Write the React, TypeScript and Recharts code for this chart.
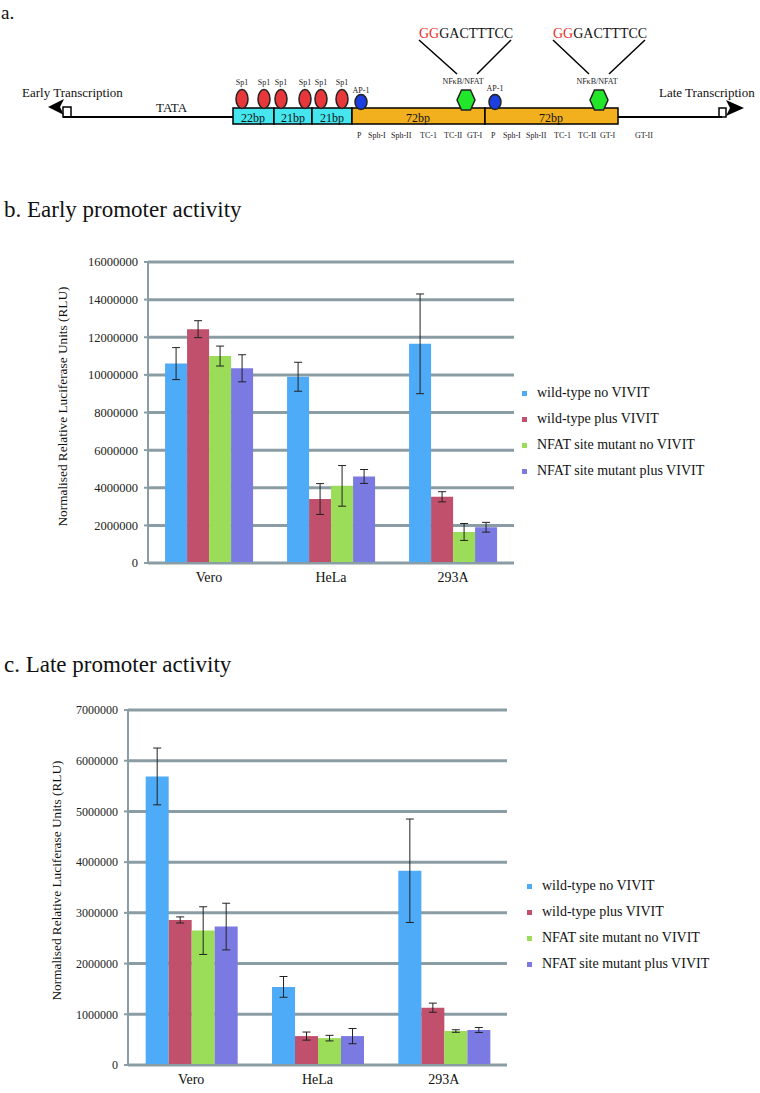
import React from 'react';
import { BarChart, Bar, XAxis, YAxis, CartesianGrid, ErrorBar, Legend } from 'recharts';

const FONT = '"Liberation Serif", "Times New Roman", serif';

const cells = ['Vero', 'HeLa', '293A'];
const seriesNames = ['wild-type no VIVIT', 'wild-type plus VIVIT', 'NFAT site mutant no VIVIT', 'NFAT site mutant plus VIVIT'];
const COLORS = ['#4DABF7', '#C0506B', '#9BDC58', '#7B79E2'];
const GRID = '#8B9DA4';

// b. early promoter
const earlyWtNo = [10600000, 9900000, 11650000];
const earlyWtNoErr = [850000, 770000, 2650000];
const earlyWtPlus = [12430000, 3400000, 3520000];
const earlyWtPlusErr = [450000, 820000, 270000];
const earlyMutNo = [11000000, 4100000, 1650000];
const earlyMutNoErr = [530000, 1080000, 450000];
const earlyMutPlus = [10350000, 4600000, 1900000];
const earlyMutPlusErr = [720000, 370000, 260000];
const earlyTicks = [0, 2000000, 4000000, 6000000, 8000000, 10000000, 12000000, 14000000, 16000000];

// c. late promoter
const lateWtNo = [5690000, 1540000, 3830000];
const lateWtNoErr = [560000, 205000, 1020000];
const lateWtPlus = [2860000, 570000, 1130000];
const lateWtPlusErr = [60000, 80000, 90000];
const lateMutNo = [2650000, 530000, 670000];
const lateMutNoErr = [470000, 55000, 25000];
const lateMutPlus = [2730000, 570000, 690000];
const lateMutPlusErr = [460000, 150000, 50000];
const lateTicks = [0, 1000000, 2000000, 3000000, 4000000, 5000000, 6000000, 7000000];

const buildRows = (vals: number[][], errs: number[][]) =>
  cells.map((name, i) => {
    const row: any = { name };
    vals.forEach((v, s) => {
      row['s' + s] = v[i];
      row['e' + s] = errs[s][i];
    });
    return row;
  });

const earlyData = buildRows(
  [earlyWtNo, earlyWtPlus, earlyMutNo, earlyMutPlus],
  [earlyWtNoErr, earlyWtPlusErr, earlyMutNoErr, earlyMutPlusErr]
);
const lateData = buildRows(
  [lateWtNo, lateWtPlus, lateMutNo, lateMutPlus],
  [lateWtNoErr, lateWtPlusErr, lateMutNoErr, lateMutPlusErr]
);

const LegendBox = () => (
  <div style={{ fontFamily: FONT, fontSize: 14, color: '#111' }}>
    {seriesNames.map((n, i) => (
      <div key={n} style={{ height: 26, display: 'flex', alignItems: 'center', whiteSpace: 'nowrap' }}>
        <span style={{ display: 'inline-block', width: 5, height: 5, background: COLORS[i], marginRight: 10 }} />
        {n}
      </div>
    ))}
  </div>
);

interface PromoterChartProps {
  data: any[];
  ticks: number[];
  top: number;
  height: number;
  margin: { top: number; right: number; bottom: number; left: number };
  xAxisHeight: number;
  tickFont: number;
  labelX: number;
  labelShift: number;
  legendLeft: number;
  legendTop: number;
}

const PromoterChart: React.FC<PromoterChartProps> = (p) => (
  <div style={{ position: 'absolute', left: 0, top: p.top }}>
    <BarChart width={760} height={p.height} data={p.data} margin={p.margin} barGap={0} barCategoryGap="14%">
      <CartesianGrid vertical={false} stroke={GRID} strokeWidth={3} />
      <XAxis
        dataKey="name"
        height={p.xAxisHeight}
        tickLine={false}
        tickSize={4}
        tickMargin={5}
        axisLine={{ stroke: GRID, strokeWidth: 2 }}
        tick={{ fontFamily: FONT, fontSize: 14, fill: '#111' }}
      />
      <YAxis
        width={100}
        domain={[p.ticks[0], p.ticks[p.ticks.length - 1]]}
        ticks={p.ticks}
        interval={0}
        tickSize={4}
        tickMargin={6}
        tickLine={{ stroke: GRID, strokeWidth: 2 }}
        axisLine={{ stroke: GRID, strokeWidth: 2 }}
        tick={{ fontFamily: FONT, fontSize: p.tickFont, fill: '#222' }}
        label={{
          content: ({ viewBox }: any) => {
            const cy = viewBox.y + viewBox.height / 2 + p.labelShift;
            return (
              <text
                x={p.labelX}
                y={cy}
                transform={`rotate(-90 ${p.labelX} ${cy})`}
                textAnchor="middle"
                dominantBaseline="central"
                fontFamily={FONT}
                fontSize={13.3}
                fill="#111"
              >
                Normalised Relative Luciferase Units (RLU)
              </text>
            );
          },
        }}
      />
      <Legend
        layout="vertical"
        align="center"
        verticalAlign="middle"
        content={() => <LegendBox />}
        wrapperStyle={{ left: p.legendLeft, top: p.legendTop, width: 240 }}
      />
      {seriesNames.map((n, i) => (
        <Bar key={n} dataKey={'s' + i} name={n} fill={COLORS[i]} isAnimationActive={false}>
          <ErrorBar dataKey={'e' + i} width={4} stroke="#222" strokeWidth={1} direction="y" />
        </Bar>
      ))}
    </BarChart>
  </div>
);

const sp1X = [242, 264, 281, 305, 321, 342];
const bottomLabels: [string, number][] = [
  ['P', 357], ['Sph-I', 368], ['Sph-II', 391], ['TC-1', 420], ['TC-II', 444], ['GT-I', 467],
  ['P', 491], ['Sph-I', 503], ['Sph-II', 526], ['TC-1', 554], ['TC-II', 578], ['GT-I', 600], ['GT-II', 635],
];

const hexagon = (cx: number, cy: number) =>
  `${cx - 9},${cy} ${cx - 4.5},${cy - 10} ${cx + 4.5},${cy - 10} ${cx + 9},${cy} ${cx + 4.5},${cy + 10} ${cx - 4.5},${cy + 10}`;

const Diagram = () => (
  <svg width={760} height={150} style={{ position: 'absolute', left: 0, top: 0 }} fontFamily={FONT}>
    <text x={1} y={19} fontSize={19} fill="#111">a.</text>
    <text x={22} y={97} fontSize={13} fill="#111">Early Transcription</text>
    <text x={156} y={112} fontSize={13} fill="#111">TATA</text>
    <text x={659} y={97} fontSize={13} fill="#111">Late Transcription</text>

    {/* main line */}
    <line x1={63} y1={117} x2={722} y2={117} stroke="#000" strokeWidth={2} />
    {/* early promoter arrow */}
    <rect x={63} y={107} width={8} height={10} fill="none" stroke="#000" strokeWidth={1.5} />
    <polygon points="48,107 64,99 60,107 64,115" fill="#000" />
    {/* late promoter arrow */}
    <rect x={719} y={108} width={7} height={9} fill="none" stroke="#000" strokeWidth={1.5} />
    <polygon points="744,108 726,100 730,108 726,116" fill="#000" />

    {/* 21/22bp repeats */}
    <rect x={233} y={108} width={41} height={16} fill="#45E6EE" stroke="#000" strokeWidth={1.5} />
    <rect x={274} y={108} width={38} height={16} fill="#45E6EE" stroke="#000" strokeWidth={1.5} />
    <rect x={312} y={108} width={40} height={16} fill="#45E6EE" stroke="#000" strokeWidth={1.5} />
    <text x={253} y={122} fontSize={12} textAnchor="middle" fill="#111">22bp</text>
    <text x={293} y={122} fontSize={12} textAnchor="middle" fill="#111">21bp</text>
    <text x={332} y={122} fontSize={12} textAnchor="middle" fill="#111">21bp</text>
    {/* 72bp repeats */}
    <rect x={352} y={108} width={133} height={16} fill="#F2B01E" stroke="#000" strokeWidth={1.5} />
    <rect x={485} y={108} width={133} height={16} fill="#F2B01E" stroke="#000" strokeWidth={1.5} />
    <text x={418} y={122} fontSize={12} textAnchor="middle" fill="#111">72bp</text>
    <text x={551} y={122} fontSize={12} textAnchor="middle" fill="#111">72bp</text>

    {sp1X.map((x, i) => (
      <g key={i}>
        <ellipse cx={x} cy={99} rx={6} ry={9.5} fill="#E8373A" stroke="#222" strokeWidth={1.5} />
        <text x={x} y={85} fontSize={8} textAnchor="middle" fill="#222">Sp1</text>
      </g>
    ))}
    <ellipse cx={361} cy={102} rx={6} ry={7.5} fill="#1D3FE0" stroke="#222" strokeWidth={1.5} />
    <text x={361} y={93} fontSize={8} textAnchor="middle" fill="#222">AP-1</text>
    <ellipse cx={495} cy={102} rx={6} ry={7.5} fill="#1D3FE0" stroke="#222" strokeWidth={1.5} />
    <text x={495} y={91} fontSize={8} textAnchor="middle" fill="#222">AP-1</text>

    <polygon points={hexagon(466, 100)} fill="#22E62A" stroke="#222" strokeWidth={1.5} />
    <polygon points={hexagon(599, 100)} fill="#22E62A" stroke="#222" strokeWidth={1.5} />
    <text x={463} y={84} fontSize={8} textAnchor="middle" fill="#222">NFκB/NFAT</text>
    <text x={597} y={84} fontSize={8} textAnchor="middle" fill="#222">NFκB/NFAT</text>

    <line x1={419} y1={40} x2={457} y2={74} stroke="#000" strokeWidth={1.5} />
    <line x1={511} y1={40} x2={477} y2={74} stroke="#000" strokeWidth={1.5} />
    <line x1={553} y1={40} x2={589} y2={74} stroke="#000" strokeWidth={1.5} />
    <line x1={645} y1={40} x2={609} y2={74} stroke="#000" strokeWidth={1.5} />
    <text x={419} y={38} fontSize={14} fill="#111">
      <tspan fill="#E8302A">GG</tspan>GACTTTCC
    </text>
    <text x={553} y={38} fontSize={14} fill="#111">
      <tspan fill="#E8302A">GG</tspan>GACTTTCC
    </text>

    {bottomLabels.map(([t, x], i) => (
      <text key={i} x={x} y={138} fontSize={8} fill="#222">{t}</text>
    ))}
  </svg>
);

export default function App() {
  return (
    <div style={{ position: 'absolute', left: 0, top: 0, width: 760, height: 1093, background: '#fff', fontFamily: FONT }}>
      <Diagram />
      <div style={{ position: 'absolute', left: 4, top: 196, fontSize: 23, lineHeight: '28px', color: '#111', whiteSpace: 'nowrap' }}>
        b. Early promoter activity
      </div>
      <PromoterChart
        data={earlyData}
        ticks={earlyTicks}
        top={230}
        height={370}
        margin={{ top: 32, right: 246, bottom: 7, left: 48 }}
        xAxisHeight={30}
        tickFont={12.5}
        labelX={62}
        labelShift={-6}
        legendLeft={522}
        legendTop={150}
      />
      <div style={{ position: 'absolute', left: 4, top: 651, fontSize: 23, lineHeight: '28px', color: '#111', whiteSpace: 'nowrap' }}>
        c. Late promoter activity
      </div>
      <PromoterChart
        data={lateData}
        ticks={lateTicks}
        top={680}
        height={413}
        margin={{ top: 30, right: 253, bottom: 4, left: 28 }}
        xAxisHeight={24}
        tickFont={12}
        labelX={56}
        labelShift={-7}
        legendLeft={527}
        legendTop={193}
      />
    </div>
  );
}
